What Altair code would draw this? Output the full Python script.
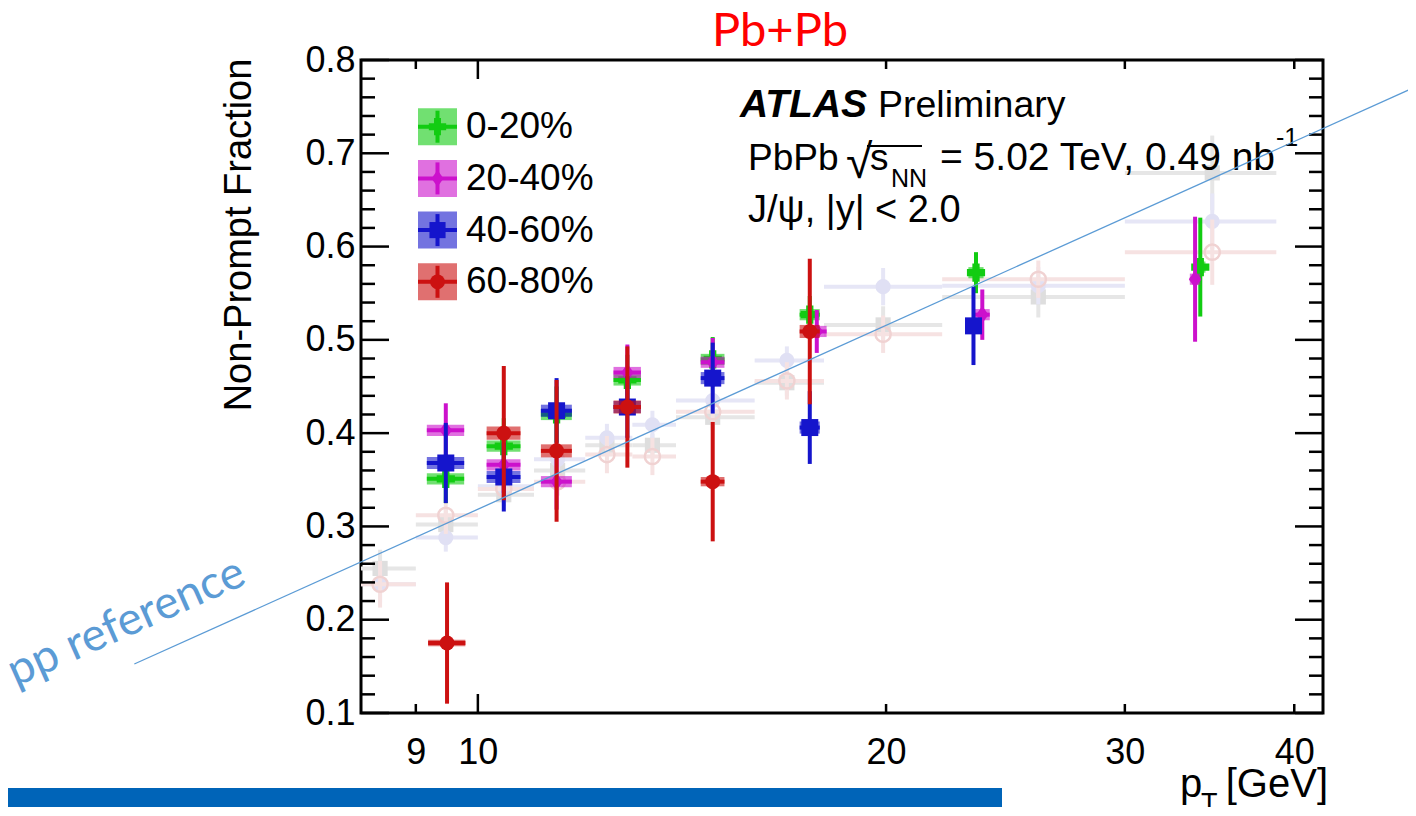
import altair as alt
import pandas as pd

# ---------------- data ----------------
categories = ["0-20%", "20-40%", "40-60%", "60-80%"]
series_colors = ["#12cc12", "#cc11cc", "#1515cc", "#cc1111"]

pt_0_20 = [9.47, 10.45, 11.43, 12.89, 14.90, 17.57, 23.30, 34.10]
frac_0_20 = [0.351, 0.386, 0.420, 0.457, 0.479, 0.527, 0.572, 0.578]
stat_0_20 = [0.026, 0.030, 0.030, 0.027, 0.024, 0.020, 0.022, 0.053]
syst_0_20 = [0.006, 0.006, 0.006, 0.006, 0.006, 0.006, 0.006, 0.006]

pt_20_40 = [9.47, 10.45, 11.43, 12.89, 14.90, 17.78, 23.55, 33.80]
frac_20_40 = [0.403, 0.366, 0.348, 0.465, 0.476, 0.509, 0.527, 0.565]
stat_20_40 = [0.029, 0.030, 0.030, 0.030, 0.026, 0.023, 0.027, 0.067]
syst_20_40 = [0.006, 0.006, 0.006, 0.006, 0.006, 0.006, 0.006, 0.006]

pt_40_60 = [9.47, 10.45, 11.43, 12.89, 14.90, 17.57, 23.20]
frac_40_60 = [0.368, 0.353, 0.424, 0.428, 0.459, 0.406, 0.515]
stat_40_60 = [0.043, 0.037, 0.035, 0.033, 0.038, 0.039, 0.042]
syst_40_60 = [0.0065, 0.0065, 0.0065, 0.0065, 0.0065, 0.0065, 0.0065]

pt_60_80 = [9.49, 10.45, 11.43, 12.89, 14.90, 17.57]
frac_60_80 = [0.175, 0.400, 0.381, 0.428, 0.348, 0.509]
stat_60_80 = [0.065, 0.072, 0.076, 0.065, 0.064, 0.078]
syst_60_80 = [0.0035, 0.007, 0.007, 0.007, 0.005, 0.007]

# faded background reference points (bins in pT)
ref_bin_lo = [8, 9, 10, 11, 12, 13, 14, 16, 18, 22, 30]
ref_bin_hi = [9, 10, 11, 12, 13, 14, 16, 18, 22, 30, 38.8]
ref_pt = [8.47, 9.47, 10.45, 11.45, 12.45, 13.45, 14.90, 16.90, 19.90, 25.90, 34.80]
ref_gray_frac = [0.255, 0.302, 0.334, 0.360, 0.387, 0.387, 0.417, 0.454, 0.516, 0.546, 0.679]
ref_gray_err = [0.020, 0.017, 0.012, 0.012, 0.012, 0.012, 0.012, 0.014, 0.020, 0.022, 0.040]
ref_blue_frac = [0.238, 0.288, 0.343, 0.372, 0.395, 0.409, 0.435, 0.478, 0.557, 0.558, 0.627]
ref_blue_err = [0.020, 0.015, 0.012, 0.012, 0.015, 0.015, 0.015, 0.015, 0.020, 0.020, 0.030]
ref_red_frac = [0.238, 0.312, 0.340, 0.348, 0.377, 0.375, 0.423, 0.456, 0.506, 0.565, 0.594]
ref_red_err = [0.025, 0.020, 0.015, 0.015, 0.020, 0.020, 0.020, 0.020, 0.020, 0.020, 0.035]

# hand-drawn "pp reference" line (in data coordinates)
pp_ref_pt = [5.58, 49.1]
pp_ref_frac = [0.1525, 0.771]

# axis ticks
x_tick_labels = [9, 10, 20, 30, 40]
x_major_ticks = [10]
x_minor_ticks = [9, 20, 30, 40]
y_major_ticks = [0.1, 0.2, 0.3, 0.4, 0.5, 0.6, 0.7, 0.8]
y_minor_ticks = [0.12, 0.14, 0.16, 0.18, 0.22, 0.24, 0.26, 0.28, 0.32, 0.34, 0.36, 0.38,
                 0.42, 0.44, 0.46, 0.48, 0.52, 0.54, 0.56, 0.58, 0.62, 0.64, 0.66, 0.68,
                 0.72, 0.74, 0.76, 0.78]

# ---------------- layout / style ----------------
W, H = 962, 653
AXFONT = "Liberation Sans"
BOX_HALF = 0.3  # GeV half width of systematic boxes

xscale = alt.Scale(type="log", domain=[8.2, 42], nice=False)
yscale = alt.Scale(domain=[0.1, 0.8], nice=False, zero=False)
x_axis = alt.Axis(values=x_tick_labels, format="d", labelFont=AXFONT, labelFontSize=36,
                  labelColor="black", labelPadding=22, ticks=False, domain=False, grid=False,
                  title=None, labelFlush=False, labelOverlap=False)
y_axis = alt.Axis(values=y_major_ticks, format=".1f", labelFont=AXFONT, labelFontSize=36,
                  labelColor="black", labelPadding=6, ticks=False, domain=False, grid=False,
                  title=None, labelOverlap=False)


def X(f):
    return alt.X(f, type="quantitative", scale=xscale, axis=x_axis)


def Y(f):
    return alt.Y(f, type="quantitative", scale=yscale, axis=y_axis)


ONE = alt.Data(values=[{"one": 1}])
layers = []

# ---- faded reference points ----
ghost_specs = [
    (ref_gray_frac, ref_gray_err, "#e6e6e6", "#dedede", "square", True),
    (ref_blue_frac, ref_blue_err, "#e6e6f6", "#e0e0f4", "circle", True),
    (ref_red_frac, ref_red_err, "#f6e2e2", "#f0d2d2", "circle", False),
]
for frac, err, barcol, mcol, shp, filled in ghost_specs:
    df = pd.DataFrame({"lo": ref_bin_lo, "hi": ref_bin_hi, "pt": ref_pt, "frac": frac})
    df["elo"] = df["frac"] - pd.Series(err)
    df["ehi"] = df["frac"] + pd.Series(err)
    b = alt.Chart(df)
    layers.append(b.mark_rule(color=barcol, strokeWidth=4, clip=True).encode(x=X("lo"), x2="hi", y=Y("frac")))
    layers.append(b.mark_rule(color=barcol, strokeWidth=4, clip=True).encode(x=X("pt"), y=Y("elo"), y2="ehi"))
    if filled:
        layers.append(b.mark_point(shape=shp, filled=True, size=230, color=mcol, opacity=1).encode(x=X("pt"), y=Y("frac")))
    else:
        layers.append(b.mark_point(shape=shp, filled=False, size=230, color=mcol, strokeWidth=2.5, opacity=1).encode(x=X("pt"), y=Y("frac")))

# ---- PbPb data series ----
DIAMOND = "M0,-1L0.72,0L0,1L-0.72,0Z"
series = [
    (pt_0_20, frac_0_20, stat_0_20, syst_0_20, "cross", 330),
    (pt_20_40, frac_20_40, stat_20_40, syst_20_40, DIAMOND, 300),
    (pt_40_60, frac_40_60, stat_40_60, syst_40_60, "square", 289),
    (pt_60_80, frac_60_80, stat_60_80, syst_60_80, "circle", 225),
]
for (pt, frac, stat, syst, shp, size), col in zip(series, series_colors):
    df = pd.DataFrame({"pt": pt, "frac": frac, "stat": stat, "syst": syst})
    df["lo"] = df["pt"] - BOX_HALF
    df["hi"] = df["pt"] + BOX_HALF
    df["blo"] = df["frac"] - df["syst"]
    df["bhi"] = df["frac"] + df["syst"]
    df["elo"] = df["frac"] - df["stat"]
    df["ehi"] = df["frac"] + df["stat"]
    b = alt.Chart(df)
    layers.append(b.mark_rect(color=col, opacity=0.6).encode(x=X("lo"), x2="hi", y=Y("blo"), y2="bhi"))
    layers.append(b.mark_rule(color=col, strokeWidth=4).encode(x=X("lo"), x2="hi", y=Y("frac")))
    layers.append(b.mark_rule(color=col, strokeWidth=4).encode(x=X("pt"), y=Y("elo"), y2="ehi"))
    layers.append(b.mark_point(shape=shp, filled=True, size=size, color=col, opacity=1).encode(x=X("pt"), y=Y("frac")))

# ---- ROOT style inner ticks on all four sides ----
ymaj = alt.Chart(pd.DataFrame({"v": y_major_ticks}))
ymin = alt.Chart(pd.DataFrame({"v": y_minor_ticks}))
for src, ln in ((ymaj, 28), (ymin, 14)):
    layers.append(src.mark_rule(color="black", strokeWidth=2.5).encode(y=Y("v"), x=alt.value(0), x2=alt.value(ln)))
    layers.append(src.mark_rule(color="black", strokeWidth=2.5).encode(y=Y("v"), x=alt.value(W - ln), x2=alt.value(W)))
xmaj = alt.Chart(pd.DataFrame({"v": x_major_ticks}))
xmin = alt.Chart(pd.DataFrame({"v": x_minor_ticks}))
for src, ln in ((xmaj, 19), (xmin, 9)):
    layers.append(src.mark_rule(color="black", strokeWidth=2.5).encode(x=X("v"), y=alt.value(H - ln), y2=alt.value(H)))
    layers.append(src.mark_rule(color="black", strokeWidth=2.5).encode(x=X("v"), y=alt.value(0), y2=alt.value(ln)))


# ---- text helper ----
def txt(s, x, y, size, font=AXFONT, color="black", weight="normal", style="normal",
        align="left", angle=0, baseline="alphabetic"):
    return alt.Chart(ONE).mark_text(text=s, font=font, fontSize=size, color=color,
                                    fontWeight=weight, fontStyle=style, align=align,
                                    baseline=baseline, angle=angle).encode(
        x=alt.value(x), y=alt.value(y))


# ---- legend ----
leg_shapes = ["cross", DIAMOND, "square", "circle"]
leg_sizes = [300, 280, 260, 220]
for i, (cat, col) in enumerate(zip(categories, series_colors)):
    cy = 66.7 + 51.7 * i
    c = alt.Chart(ONE)
    layers.append(c.mark_rect(color=col, opacity=0.6).encode(
        x=alt.value(57), x2=alt.value(96), y=alt.value(cy - 18.5), y2=alt.value(cy + 18.5)))
    layers.append(c.mark_rule(color=col, strokeWidth=4).encode(
        x=alt.value(76.5), y=alt.value(cy - 16), y2=alt.value(cy + 16)))
    layers.append(c.mark_rule(color=col, strokeWidth=4).encode(
        x=alt.value(57), x2=alt.value(96), y=alt.value(cy)))
    layers.append(c.mark_point(shape=leg_shapes[i], filled=True, size=leg_sizes[i], color=col, opacity=1).encode(
        x=alt.value(76.5), y=alt.value(cy)))
    layers.append(txt(cat, 105, cy + 11.5, 37))

# ---- ATLAS labels ----
layers.append(txt("ATLAS", 379, 57, 39, weight="bold", style="italic"))
layers.append(txt("Preliminary", 517, 57, 37.5))
layers.append(txt("PbPb", 387, 110, 37))
layers.append(txt("\u221a", 485, 118, 48))
layers.append(alt.Chart(ONE).mark_rule(color="black", strokeWidth=2).encode(
    x=alt.value(506), x2=alt.value(561), y=alt.value(86)))
layers.append(txt("s", 509, 110, 37))
layers.append(txt("NN", 530, 127, 25))
layers.append(txt("= 5.02 TeV, 0.49 nb", 579, 110, 39))
layers.append(txt("-1", 915, 86, 25))
layers.append(txt("J/\u03c8, |y| < 2.0", 387, 162, 38))

# ---- axis titles ----
layers.append(txt("Non-Prompt Fraction", -110, 175, 38, align="center", angle=270))
layers.append(txt("p", 819, 737, 40))
layers.append(txt("T", 840, 752, 27))
layers.append(txt("[GeV]", 967, 737, 40, align="right"))

# ---- slide annotations ----
layers.append(txt("Pb+Pb", 419, -14, 47, font="Lato", color="#ff0000", align="center"))
layers.append(txt("pp reference", -229, 575, 46, font="Lato", color="#5b9bd5", align="center", angle=336))
layers.append(alt.Chart(ONE).mark_rect(color="#0064b8").encode(
    x=alt.value(-353), x2=alt.value(641), y=alt.value(728), y2=alt.value(770)))
layers.append(txt("Significant centrality dependence, different to pp", -345, 779, 36,
                  font="Lato", color="white", weight="bold"))

# pp reference line (drawn on top)
pp_df = pd.DataFrame({"pt": pp_ref_pt, "frac": pp_ref_frac})
layers.append(alt.Chart(pp_df).mark_line(color="#5b9bd5", strokeWidth=1.3, clip=False).encode(
    x=X("pt"), y=Y("frac")))

chart = alt.layer(*layers).properties(
    width=W, height=H,
    padding={"left": 353, "top": 52, "right": 85, "bottom": 94},
    autosize=alt.AutoSizeParams(type="none"),
).configure_view(stroke="black", strokeWidth=3)

chart.save("out.html", embed_options={"renderer": "svg", "actions": False})
